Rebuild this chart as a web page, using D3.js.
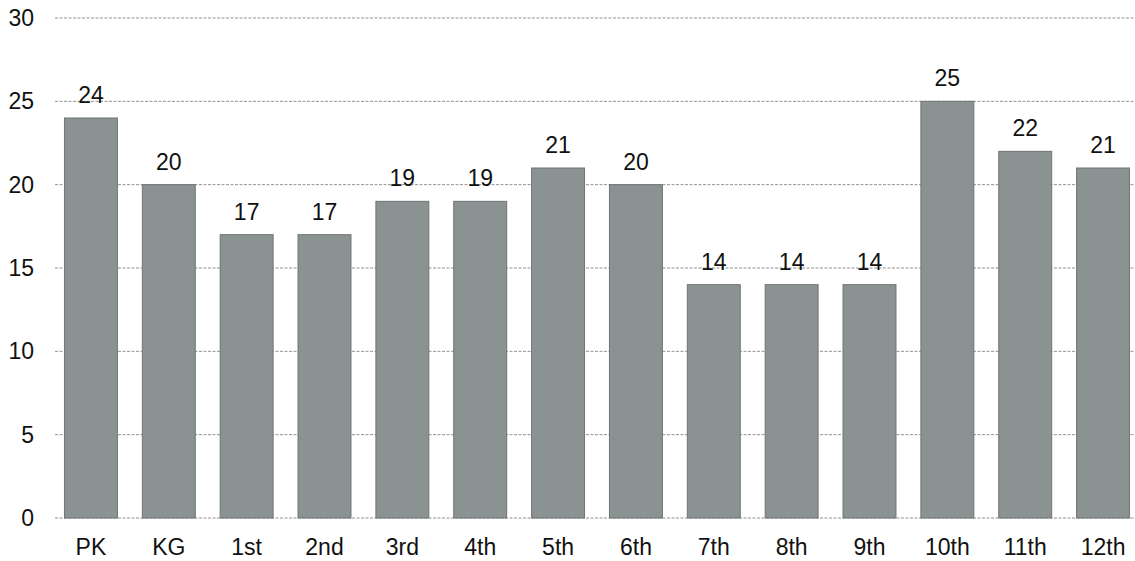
<!DOCTYPE html>
<html>
<head>
<meta charset="utf-8">
<script src="https://cdn.jsdelivr.net/npm/d3@7"></script>
<style>
  body { margin: 0; background: #fff; }
  svg text { font-family: "Liberation Sans", Arial, sans-serif; fill: #111; }
</style>
</head>
<body>
<svg id="chart" width="1135" height="561"></svg>
<script>
const categories = ["PK","KG","1st","2nd","3rd","4th","5th","6th","7th","8th","9th","10th","11th","12th"];
const values = [24, 20, 17, 17, 19, 19, 21, 20, 14, 14, 14, 25, 22, 21];
const yTicks = [0, 5, 10, 15, 20, 25, 30];

const svg = d3.select("#chart");
const FS = 23;

const x = d3.scaleBand()
  .domain(categories)
  .range([52, 1142])
  .paddingInner(0.32)
  .paddingOuter(0.16);

const y = d3.scaleLinear().domain([0, 30]).range([518, 18]);

// gridlines
svg.append("g").selectAll("line")
  .data(yTicks)
  .join("line")
  .attr("x1", 55).attr("x2", 1135)
  .attr("y1", d => y(d)).attr("y2", d => y(d))
  .attr("stroke", "#777")
  .attr("stroke-width", 1)
  .attr("stroke-dasharray", "3,1.5")
  .attr("opacity", 0.8);

// y axis labels
const yAxis = d3.axisLeft(y).tickValues(yTicks).tickSize(0).tickPadding(0);
const yg = svg.append("g").attr("transform", "translate(34,0)").call(yAxis);
yg.select(".domain").remove();
yg.selectAll("text").attr("font-size", FS).style("font-family", "Liberation Sans, Arial, sans-serif").attr("fill", "#111");

// bars
svg.append("g").selectAll("rect")
  .data(values)
  .join("rect")
  .attr("x", (d, i) => x(categories[i]))
  .attr("y", d => y(d))
  .attr("width", x.bandwidth())
  .attr("height", d => y(0) - y(d))
  .attr("fill", "#8a9292")
  .attr("stroke", "#6f7474")
  .attr("stroke-width", 1);

// value labels
svg.append("g").selectAll("text")
  .data(values)
  .join("text")
  .attr("x", (d, i) => x(categories[i]) + x.bandwidth() / 2)
  .attr("y", d => y(d) - 15)
  .attr("text-anchor", "middle")
  .attr("font-size", FS)
  .text(d => d3.format("d")(d));

// x axis labels
const xAxis = d3.axisBottom(x).tickSize(0).tickPadding(0);
const xg = svg.append("g").attr("transform", "translate(0,539)").call(xAxis);
xg.select(".domain").remove();
xg.selectAll("text").attr("font-size", FS).style("font-family", "Liberation Sans, Arial, sans-serif").attr("fill", "#111");
</script>
</body>
</html>
